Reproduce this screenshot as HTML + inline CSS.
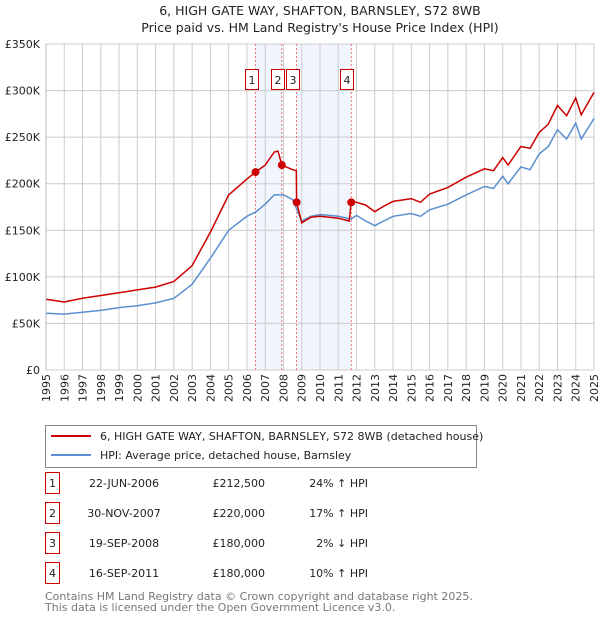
<!DOCTYPE html>
<html><head><meta charset="utf-8"><style>
body{margin:0;background:#fff;font-family:"DejaVu Sans","Liberation Sans",sans-serif;}
svg{display:block}
</style></head><body>
<svg id="c" width="600" height="620" xmlns="http://www.w3.org/2000/svg">
<text x="320" y="15" text-anchor="middle" font-size="12.5" fill="#222">6, HIGH GATE WAY, SHAFTON, BARNSLEY, S72 8WB</text>
<text x="320" y="32" text-anchor="middle" font-size="12.5" fill="#222">Price paid vs. HM Land Registry's House Price Index (HPI)</text>
<g id="plot"></g>
<rect x="45.5" y="425.5" width="431" height="42" fill="#fff" stroke="#888"/>
<line x1="51" y1="436" x2="91" y2="436" stroke="#cc0000" stroke-width="2"/>
<text x="100" y="440" font-size="11" fill="#222">6, HIGH GATE WAY, SHAFTON, BARNSLEY, S72 8WB (detached house)</text>
<line x1="51" y1="455" x2="91" y2="455" stroke="#5b8fd0" stroke-width="2"/>
<text x="100" y="459" font-size="11" fill="#222">HPI: Average price, detached house, Barnsley</text>
<g id="table"></g>
<text x="45" y="600" font-size="11" fill="#777">Contains HM Land Registry data © Crown copyright and database right 2025.</text>
<text x="45" y="611" font-size="11" fill="#777">This data is licensed under the Open Government Licence v3.0.</text>
</svg>
<script>
const hpiYears=[1995,1996,1997,1998,1999,2000,2001,2002,2003,2004,2005,2006,2006.5,2007,2007.5,2008,2008.5,2009,2009.5,2010,2011,2011.7,2012,2012.5,2013,2013.5,2014,2015,2015.5,2016,2017,2018,2019,2019.5,2020,2020.3,2021,2021.5,2022,2022.5,2023,2023.5,2024,2024.3,2025];
const hpiValues=[61,60,62,64,67,69,72,77,92,120,150,165,170,178,188,188,183,160,165,167,165,162,166,160,155,160,165,168,165,172,178,188,197,195,208,200,218,215,232,240,258,248,265,248,270];
const propYears=[1995,1996,1997,1998,1999,2000,2001,2002,2003,2004,2005,2006,2006.47,2007,2007.5,2007.7,2007.91,2008.5,2008.7,2008.72,2009,2009.5,2010,2011,2011.6,2011.71,2012,2012.5,2013,2013.5,2014,2015,2015.5,2016,2017,2018,2019,2019.5,2020,2020.3,2021,2021.5,2022,2022.5,2023,2023.5,2024,2024.3,2025];
const propValues=[76,73,77,80,83,86,89,95,112,148,188,205,212.5,220,234,235,220,215,214,180,158,164,165,163,160,180,180,177,170,176,181,184,180,189,196,207,216,214,228,220,240,238,255,264,284,273,292,274,298];
const saleLabels=["1","2","3","4"];
const saleYears=[2006.47,2007.91,2008.72,2011.71];
const saleValues=[212.5,220,180,180];
const saleDates=["22-JUN-2006","30-NOV-2007","19-SEP-2008","16-SEP-2011"];
const salePrices=["£212,500","£220,000","£180,000","£180,000"];
const saleDiffs=["24% ↑ HPI","17% ↑ HPI","2% ↓ HPI","10% ↑ HPI"];
const yTicks=[0,50,100,150,200,250,300,350];
const yTickLabels=["£0","£50K","£100K","£150K","£200K","£250K","£300K","£350K"];

const NS="http://www.w3.org/2000/svg";
const X0=46,X1=594,Y0=370,Y1=44;
const x=y=>X0+(y-1995)/30*(X1-X0);
const yv=v=>Y0-v/350*(Y0-Y1);
const plot=document.getElementById('plot');
function mk(t,a,p){const e=document.createElementNS(NS,t);for(const k in a)e.setAttribute(k,a[k]);(p||plot).appendChild(e);return e;}
let s=mk('rect',{x:x(saleYears[0]),y:Y1,width:x(saleYears[1])-x(saleYears[0]),height:Y0-Y1,fill:'#eef3fc',opacity:0.8});


s=mk('rect',{x:x(saleYears[2]),y:Y1,width:x(saleYears[3])-x(saleYears[2]),height:Y0-Y1,fill:'#eef3fc',opacity:0.8});


for(let yr=1995;yr<=2025;yr++){
 const l=mk('line',{x1:x(yr),x2:x(yr),y1:Y1,y2:Y0,stroke:'#ccc','stroke-width':1});
 
 
 const t=mk('text',{transform:`translate(${x(yr)+4},${Y0+32}) rotate(-90)`,'font-size':11,fill:'#222'});
 t.textContent=yr;
 
 
}
yTicks.forEach((v,i)=>{
 const l=mk('line',{x1:X0,x2:X1,y1:yv(v),y2:yv(v),stroke:'#ccc','stroke-width':1});
 
 
 const t=mk('text',{x:X0-6,y:yv(v)+4,'text-anchor':'end','font-size':11,fill:'#222'});
 t.textContent=yTickLabels[i];
 
 
});
saleYears.forEach((sy,i)=>{
 const l=mk('line',{x1:x(sy),x2:x(sy),y1:Y1,y2:Y0,stroke:'#e55','stroke-width':0.8,'stroke-dasharray':'2,2'});
 
 
 const bx=Math.round(x(sy)-11);
 const r=mk('rect',{x:bx+0.5,y:69.5,width:13,height:20,fill:'#fff',stroke:'#cc0000'});
 
 
 const t=mk('text',{x:bx+7,y:84,'text-anchor':'middle','font-size':11,fill:'#222'});
 t.textContent=saleLabels[i];
 
 
});
function line(ys,vs,col,name){
 const d=ys.map((yy,i)=>(i?'L':'M')+x(yy).toFixed(1)+','+yv(vs[i]).toFixed(1)).join('');
 const p=mk('path',{d:d,fill:'none',stroke:col,'stroke-width':1.5});
 
 
}
line(hpiYears,hpiValues,'#5b8fd0','hpi-line');
line(propYears,propValues,'#cc0000','property-line');
saleYears.forEach((sy,i)=>{
 const c=mk('circle',{cx:x(sy),cy:yv(saleValues[i]),r:4,fill:'#cc0000'});
 
 
});
mk('line',{x1:X0,x2:X0,y1:Y1,y2:Y0,stroke:'#bbb'});
const tb=document.getElementById('table');
saleLabels.forEach((lb,i)=>{
 const cy=483+i*30;
 const r=mk('rect',{x:45.5,y:cy-10.5,width:14,height:21,fill:'#fff',stroke:'#cc0000'},tb);
 
 
 const cells=[[52.5,lb,'middle'],[124,saleDates[i],'middle'],[265,salePrices[i],'end'],[368,saleDiffs[i],'end']];
 cells.forEach(c=>{
  const t=mk('text',{x:c[0],y:cy+4,'text-anchor':c[2],'font-size':11,fill:'#222'},tb);
  t.textContent=c[1];
  
  
 });
});
</script>
</body></html>
